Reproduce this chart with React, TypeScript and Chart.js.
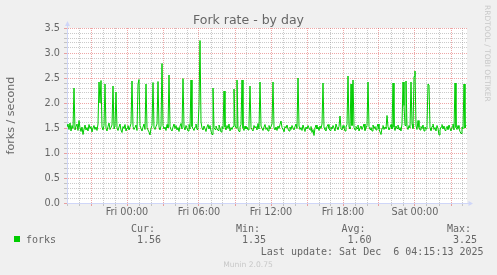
import React, { useEffect, useRef } from 'react';
import { Chart, registerables } from 'chart.js';

Chart.register(...registerables);

// ---- texts ----
const TITLE = 'Fork rate - by day';
const Y_TITLE = 'forks / second';
const SERIES_NAME = 'forks';
const LAST_UPDATE = 'Last update: Sat Dec  6 04:15:13 2025';
const WATERMARK = 'Munin 2.0.75';
const CREDIT = 'RRDTOOL / TOBI OETIKER';

// ---- time axis (hours relative to Fri 00:00), one sample every 5 minutes ----
const START_HOUR = -5.0;
const SAMPLE_MINUTES = 5;
const SAMPLE_COUNT = 400;

const xTickHours = [0, 6, 12, 18, 24];
const xTickLabels = ['Fri 00:00', 'Fri 06:00', 'Fri 12:00', 'Fri 18:00', 'Sat 00:00'];
const yTickLabels = ['0.0', '0.5', '1.0', '1.5', '2.0', '2.5', '3.0', '3.5'];

// ---- legend ----
const legendHeaders = ['Cur:', 'Min:', 'Avg:', 'Max:'];
const legendValues = ['1.56', '1.35', '1.60', '3.25'];

// ---- series: forks per second, 5-minute samples ----
const forks: number[] = [
  1.52, 1.58, 1.47, 1.60, 1.44, 1.55, 1.49, 2.30, 1.46, 1.53, 1.58, 1.45, 1.65, 1.50, 1.43, 1.52, 1.37, 1.48, 1.56, 1.46,
  1.51, 1.44, 1.57, 1.49, 1.53, 1.42, 1.50, 1.55, 1.47, 1.52, 1.45, 1.58, 2.42, 2.00, 2.45, 1.52, 1.46, 1.55, 2.38, 1.49,
  1.44, 1.53, 1.60, 1.47, 1.51, 1.56, 2.34, 1.48, 1.54, 2.22, 1.50, 1.45, 1.52, 1.58, 1.46, 1.41, 1.53, 1.49, 1.57, 1.44,
  1.50, 1.55, 1.46, 1.52, 1.59, 2.44, 1.53, 1.47, 1.51, 1.56, 1.45, 2.38, 2.47, 1.55, 1.49, 1.44, 1.52, 1.58, 1.47, 2.38,
  1.51, 1.46, 1.42, 1.36, 1.49, 1.55, 2.41, 1.50, 1.47, 1.53, 1.58, 2.43, 1.52, 1.46, 1.54, 2.79, 1.55, 1.48, 1.52, 1.45,
  1.57, 1.50, 2.56, 1.53, 1.47, 1.44, 1.52, 1.58, 1.49, 1.55, 1.46, 1.51, 1.43, 1.54, 1.59, 1.48, 2.49, 1.52, 1.46, 1.55,
  1.50, 1.44, 1.57, 1.48, 2.46, 1.53, 1.49, 1.45, 1.52, 1.58, 1.47, 1.51, 1.95, 3.25, 1.62, 1.50, 1.46, 1.54, 1.49, 1.43,
  1.52, 1.57, 1.48, 1.55, 1.44, 1.37, 2.30, 1.51, 1.47, 1.54, 1.49, 1.45, 1.56, 1.50, 1.42, 1.53, 1.48, 2.24, 1.52, 1.46,
  1.55, 1.49, 1.58, 1.44, 1.51, 1.47, 1.53, 2.28, 1.56, 1.50, 2.46, 1.48, 1.43, 1.52, 1.57, 2.46, 1.50, 1.45, 1.54, 1.48,
  1.52, 1.46, 1.58, 2.34, 1.51, 1.47, 1.44, 1.55, 1.50, 1.53, 1.46, 1.59, 1.48, 2.42, 1.54, 1.49, 1.45, 1.52, 1.57, 1.47,
  1.51, 1.44, 1.55, 1.48, 1.53, 1.58, 2.42, 1.50, 1.46, 1.52, 1.45, 1.54, 1.49, 1.57, 1.64, 1.51, 1.47, 1.43, 1.53, 1.50,
  1.56, 1.48, 1.44, 1.52, 1.47, 1.55, 1.50, 1.46, 1.53, 1.58, 1.49, 2.50, 1.54, 1.47, 1.51, 1.45, 1.56, 1.49, 1.43, 1.52,
  1.48, 1.55, 1.50, 1.46, 1.53, 1.41, 1.47, 1.35, 1.50, 1.56, 1.48, 1.52, 1.45, 1.54, 1.49, 1.58, 2.40, 1.51, 1.47, 1.44,
  1.53, 1.57, 1.49, 1.45, 1.52, 1.48, 1.55, 1.50, 1.44, 1.58, 1.51, 1.47, 1.53, 1.74, 1.49, 1.46, 1.55, 1.50, 1.44, 1.52,
  1.57, 2.54, 1.52, 1.48, 2.38, 1.55, 2.46, 1.51, 1.46, 1.53, 1.49, 1.56, 1.44, 1.50, 1.54, 1.47, 1.52, 1.58, 1.45, 1.50,
  1.55, 2.42, 1.53, 1.47, 1.51, 1.44, 1.56, 1.49, 1.53, 1.46, 1.52, 1.58, 1.48, 1.42, 1.37, 1.50, 1.55, 1.47, 1.52, 1.49,
  1.75, 1.53, 1.46, 1.51, 1.57, 1.48, 2.40, 1.52, 1.45, 1.54, 1.49, 1.56, 1.47, 1.51, 1.44, 1.58, 2.42, 1.95, 1.55, 2.44,
  1.52, 1.47, 1.55, 1.50, 2.42, 1.58, 1.49, 2.53, 2.64, 1.54, 1.47, 1.65, 1.51, 1.46, 1.53, 1.49, 1.56, 1.44, 1.52, 1.48,
  1.55, 2.38, 2.36, 1.50, 1.45, 1.53, 1.58, 1.47, 1.51, 1.44, 1.55, 1.49, 1.36, 1.46, 1.52, 1.57, 1.48, 1.54, 1.45, 1.50,
  1.53, 1.47, 1.56, 1.49, 1.44, 1.52, 1.58, 1.46, 2.40, 1.51, 1.47, 1.55, 1.49, 1.43, 1.39, 1.52, 1.48, 2.38, 1.50, 1.56,
];

// ---- styles ----
const LINE_COLOR = '#00cc00';
const FONT_COLOR = '#666666';
const AXIS_COLOR = '#cfd6f8';
const GRID_COLOR = 'rgba(150,150,150,0.5)';
const MGRID_COLOR = 'rgba(222,79,79,0.5)';
const FAINT_COLOR = '#c8c8c8';

const END_HOUR = START_HOUR + (SAMPLE_COUNT * SAMPLE_MINUTES) / 60;

const decorPlugin = {
  id: 'muninDecor',
  beforeDraw(chart: any) {
    const { ctx, chartArea: a } = chart;
    ctx.save();
    ctx.fillStyle = '#ffffff';
    ctx.fillRect(a.left, a.top, a.right - a.left, a.bottom - a.top);
    ctx.restore();
  },
  afterDraw(chart: any) {
    const { ctx, chartArea: a } = chart;
    ctx.save();
    // axis extensions and arrows
    const ax = Math.round(a.left) + 0.5;
    const ay = Math.round(a.bottom) + 0.5;
    ctx.strokeStyle = AXIS_COLOR;
    ctx.lineWidth = 1;
    ctx.beginPath();
    ctx.moveTo(ax, a.top);
    ctx.lineTo(ax, a.top - 2);
    ctx.moveTo(a.right, ay);
    ctx.lineTo(a.right + 2, ay);
    ctx.stroke();
    ctx.fillStyle = AXIS_COLOR;
    ctx.beginPath();
    ctx.moveTo(ax - 2.5, a.top - 2);
    ctx.lineTo(ax + 2.5, a.top - 2);
    ctx.lineTo(ax, a.top - 7);
    ctx.closePath();
    ctx.fill();
    ctx.beginPath();
    ctx.moveTo(a.right + 1.5, ay - 2.5);
    ctx.lineTo(a.right + 1.5, ay + 2.5);
    ctx.lineTo(a.right + 6, ay);
    ctx.closePath();
    ctx.fill();

    // title
    ctx.fillStyle = FONT_COLOR;
    ctx.textBaseline = 'alphabetic';
    ctx.textAlign = 'center';
    ctx.font = '12.5px "DejaVu Sans"';
    ctx.fillText(TITLE, 248.5, 24);

    // legend
    ctx.textAlign = 'left';
    ctx.font = '10px "DejaVu Sans Mono"';
    const colX = [131, 236, 341.5, 447];
    legendHeaders.forEach((h, i) => ctx.fillText(h, colX[i], 231.5));
    legendValues.forEach((v, i) => ctx.fillText(v, colX[i] + 6, 243));
    ctx.fillText(SERIES_NAME, 26, 243);
    ctx.fillText(LAST_UPDATE, 260.8, 255);
    ctx.fillStyle = LINE_COLOR;
    ctx.fillRect(14, 236, 6, 6);

    // watermark and credit
    ctx.fillStyle = FAINT_COLOR;
    ctx.textAlign = 'center';
    ctx.font = '7.6px "DejaVu Sans"';
    ctx.fillText(WATERMARK, 248, 267);
    ctx.translate(485, 5);
    ctx.rotate(Math.PI / 2);
    ctx.textAlign = 'left';
    ctx.font = '7.5px "DejaVu Sans"';
    ctx.fillText(CREDIT, 0, 0);
    ctx.restore();
  },
};

export default function App() {
  const canvasRef = useRef<HTMLCanvasElement | null>(null);

  useEffect(() => {
    document.body.style.margin = '0';
    const canvas = canvasRef.current;
    if (!canvas) return;
    const points = forks.map((v, i) => ({ x: START_HOUR + (i * SAMPLE_MINUTES) / 60, y: v }));
    const isMajorY = (v: number) => Math.round(v * 10) % 5 === 0;
    const isMajorX = (v: number) => Math.round(v) % 3 === 0;

    const chart = new Chart(canvas, {
      type: 'line',
      data: {
        datasets: [
          {
            label: SERIES_NAME,
            data: points,
            borderColor: LINE_COLOR,
            backgroundColor: LINE_COLOR,
            borderWidth: 1,
            pointRadius: 0,
            tension: 0,
            fill: false,
          },
        ],
      },
      options: {
        animation: false,
        responsive: false,
        maintainAspectRatio: false,
        devicePixelRatio: 1,
        events: [],
        layout: { padding: { left: 0, top: 28, right: 30, bottom: 52 } },
        plugins: {
          legend: { display: false },
          tooltip: { enabled: false },
          title: { display: false },
        },
        scales: {
          x: {
            type: 'linear',
            min: START_HOUR,
            max: END_HOUR,
            afterFit: (s: any) => {
              s.height = 20;
            },
            ticks: {
              stepSize: 1,
              maxTicksLimit: 1000,
              autoSkip: false,
              maxRotation: 0,
              minRotation: 0,
              includeBounds: false,
              padding: 1,
              color: FONT_COLOR,
              font: { family: '"DejaVu Sans"', size: 9.7 },
              callback: (v: any) => {
                const idx = xTickHours.indexOf(Math.round(Number(v)));
                return idx >= 0 ? xTickLabels[idx] : '';
              },
            },
            grid: {
              color: (c: any) => (isMajorX(c.tick.value) ? MGRID_COLOR : GRID_COLOR),
              lineWidth: 1,
              drawTicks: true,
              tickLength: 3,
            },
            border: { display: true, color: AXIS_COLOR, width: 1, dash: [1, 1] },
          },
          y: {
            type: 'linear',
            min: 0,
            max: 3.5,
            afterFit: (s: any) => {
              s.width = 67;
            },
            ticks: {
              stepSize: 0.1,
              maxTicksLimit: 1000,
              autoSkip: false,
              padding: 4,
              color: FONT_COLOR,
              font: { family: '"DejaVu Sans"', size: 9.7 },
              callback: (v: any) => {
                const n = Number(v);
                return isMajorY(n) ? yTickLabels[Math.round(n * 2)] : '';
              },
            },
            grid: {
              color: (c: any) => (isMajorY(c.tick.value) ? MGRID_COLOR : GRID_COLOR),
              lineWidth: 1,
              drawTicks: true,
              tickLength: 3,
            },
            border: { display: true, color: AXIS_COLOR, width: 1, dash: [1, 1] },
            title: {
              display: true,
              text: Y_TITLE,
              color: FONT_COLOR,
              font: { family: '"DejaVu Sans"', size: 11.1 },
              padding: { top: 4, bottom: 0 },
            },
          },
        },
      },
      plugins: [decorPlugin],
    } as any);

    return () => {
      chart.destroy();
    };
  }, []);

  return (
    <div style={{ position: 'relative', width: 497, height: 275, background: '#f0f0f0' }}>
      <canvas ref={canvasRef} width={497} height={275} style={{ display: 'block' }} />
    </div>
  );
}
